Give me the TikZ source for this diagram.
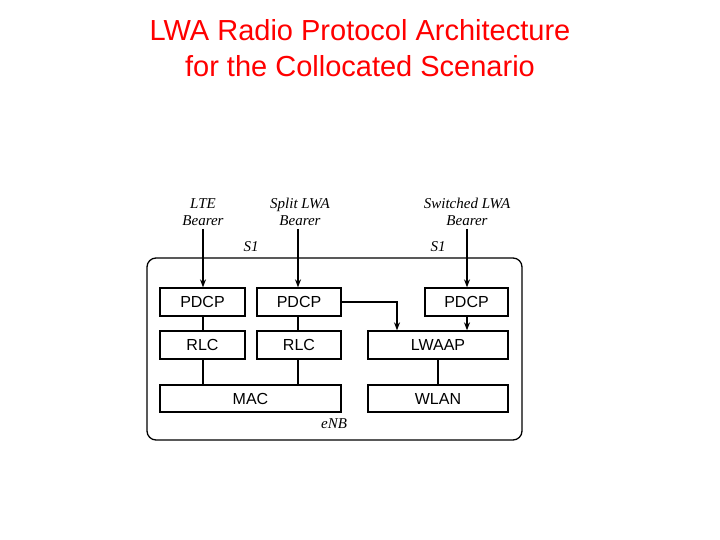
\documentclass[tikz,border=0pt]{standalone}
\usepackage{fontspec}
\setmainfont{Liberation Serif}
\newfontfamily\arialf{Liberation Sans}
\usetikzlibrary{arrows.meta}
\begin{document}
\begin{tikzpicture}[x=1pt,y=-1pt,
  box/.style={draw,line width=1.3pt,inner sep=0pt,font=\arialf\fontsize{16}{16}\selectfont},
  lab/.style={font=\itshape\fontsize{15}{17}\selectfont,align=center,inner sep=0pt},
  arr/.style={line width=1.3pt,-{Stealth[length=8pt,width=6pt]}},
  ln/.style={line width=1.3pt}]
\useasboundingbox (0,0) rectangle (720,540);
\node[text=red,font=\arialf\fontsize{29}{36}\selectfont,align=center] (title) at (360,48) {LWA Radio Protocol Architecture\\for the Collocated Scenario};
\node[draw,line width=1.3pt,rounded corners=9pt,minimum width=375pt,minimum height=182pt,inner sep=0pt] (enbbox) at (334.5,349) {};
\node[box,minimum width=85pt,minimum height=28pt] (p1) at (202.5,302) {PDCP};
\node[box,minimum width=84pt,minimum height=28pt] (p2) at (299,302) {PDCP};
\node[box,minimum width=83pt,minimum height=28pt] (p3) at (466.5,302) {PDCP};
\node[box,minimum width=85pt,minimum height=28pt] (r1) at (202.5,345) {RLC};
\node[box,minimum width=84pt,minimum height=28pt] (r2) at (299,345) {RLC};
\node[box,minimum width=140pt,minimum height=28pt] (lw) at (438,345) {LWAAP};
\node[box,minimum width=181pt,minimum height=27pt] (mac) at (250.5,398.5) {MAC};
\node[box,minimum width=140pt,minimum height=27pt] (wlan) at (438,398.5) {WLAN};
\node[lab] (b1) at (203,212) {LTE\\Bearer};
\node[lab] (b2) at (300,212) {Split LWA\\Bearer};
\node[lab] (b3) at (467,212) {Switched LWA\\Bearer};
\node[lab] (s1a) at (251,247) {S1};
\node[lab] (s1b) at (438,247) {S1};
\node[lab] (enb) at (334,424) {eNB};
\coordinate (t1) at (203,229); \coordinate (t2) at (298,229); \coordinate (t3) at (467,229);
\draw[arr] (t1) -- (p1.north -| t1);
\draw[arr] (t2) -- (p2.north -| t2);
\draw[arr] (t3) -- (p3.north -| t3);
\draw[arr] (p2.east) -- (397,302) -- (lw.north -| 397,0);
\draw[arr] (p3.south -| t3) -- (lw.north -| t3);
\draw[ln] (p1.south -| t1) -- (r1.north -| t1);
\draw[ln] (p2.south -| t2) -- (r2.north -| t2);
\draw[ln] (r1.south -| t1) -- (mac.north -| t1);
\draw[ln] (r2.south -| t2) -- (mac.north -| t2);
\draw[ln] (lw.south) -- (wlan.north);
\end{tikzpicture}
\end{document}
